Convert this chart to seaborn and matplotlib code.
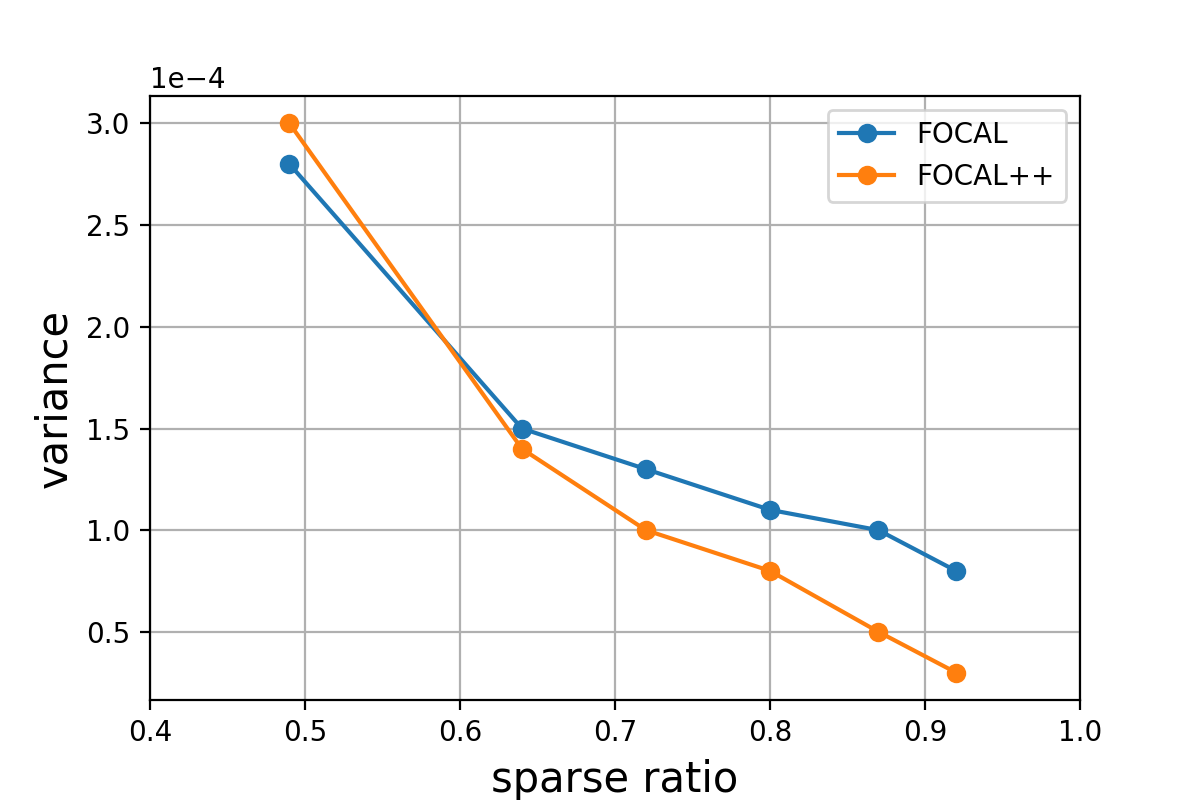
import matplotlib

matplotlib.use("Agg")

import matplotlib.pyplot as plt
import pandas as pd
import seaborn as sns

sparse_ratio = [0.49, 0.64, 0.72, 0.80, 0.87, 0.92]
focal = [2.8e-4, 1.5e-4, 1.3e-4, 1.1e-4, 1.0e-4, 0.8e-4]
focal_pp = [3.0e-4, 1.4e-4, 1.0e-4, 0.8e-4, 0.5e-4, 0.3e-4]
series_names = ["FOCAL", "FOCAL++"]
colors = ["#1f77b4", "#ff7f0e"]

df = pd.concat(
    [
        pd.DataFrame({"sparse ratio": sparse_ratio, "variance": vals, "method": name})
        for name, vals in zip(series_names, [focal, focal_pp])
    ],
    ignore_index=True,
)

fig, ax = plt.subplots(figsize=(6, 4), dpi=200)
fig.subplots_adjust(left=0.125, right=0.9, top=0.88, bottom=0.125)

for name, color in zip(series_names, colors):
    sub = df[df["method"] == name]
    sns.lineplot(
        data=sub,
        x="sparse ratio",
        y="variance",
        ax=ax,
        color=color,
        marker="o",
        markersize=6,
        markeredgecolor=color,
        markeredgewidth=1,
        linewidth=1.5,
        label=name,
    )

ax.set_xlim(0.4, 1.0)
ax.grid(True)
ax.ticklabel_format(axis="y", style="sci", scilimits=(0, 0))
ax.set_xlabel("sparse ratio", fontsize=15)
ax.set_ylabel("variance", fontsize=15)
ax.legend(loc="upper right", fontsize=10)

fig.savefig("out.png", dpi=200)
plt.close(fig)
